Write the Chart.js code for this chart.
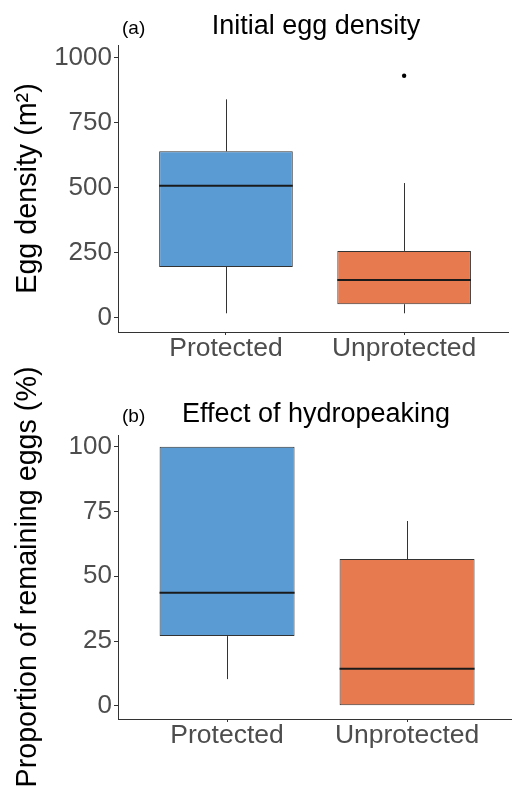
<!DOCTYPE html>
<html>
<head>
<meta charset="utf-8">
<script src="https://cdn.jsdelivr.net/npm/chart.js@4.4.1/dist/chart.umd.min.js"></script>
<style>
  body { margin: 0; background: #fff; }
  #wrap { position: relative; width: 512px; height: 787px; }
  canvas { position: absolute; left: 0; }
  #densidade { top: 0; }
  #hidro { top: 350px; }
</style>
</head>
<body>
<div id="wrap">
  <canvas id="densidade" width="512" height="380"></canvas>
  <canvas id="hidro" width="512" height="437"></canvas>
</div>
<script>
// grupos comuns aos dois painéis
var grupos = ['Protected', 'Unprotected'];
var cores = ['#5a9bd4', '#e87a4f'];

// (a) densidade inicial de ovos
var densMin = [18, 18];
var densQ1 = [196, 53];
var densMediana = [509, 146];
var densQ3 = [641, 258];
var densMax = [841, 519];
var densOutliers = [[], [932]];
var densTicks = [0, 250, 500, 750, 1000];

// (b) proporção de ovos restantes
var ovosMin = [10.3, 0];
var ovosQ1 = [26.9, 0];
var ovosMediana = [43.6, 14.3];
var ovosQ3 = [100, 56.6];
var ovosMax = [100, 71.3];
var ovosTicks = [0, 25, 50, 75, 100];

var fonte = "'Liberation Sans', Arial, sans-serif";

// bigodes atrás das caixas, mediana por cima
var pluginBoxplot = {
    id: 'boxplot',
    beforeDatasetsDraw: function (chart) {
        var b = chart.options.plugins.boxplot;
        var ys = chart.scales.y, xs = chart.scales.x;
        var ctx = chart.ctx;
        ctx.save();
        ctx.strokeStyle = '#333333';
        ctx.lineWidth = 1;
        for (var i = 0; i < grupos.length; i++) {
            var x = Math.round(xs.getPixelForValue(i + 1)) + 0.5;
            ctx.beginPath();
            ctx.moveTo(x, ys.getPixelForValue(b.min[i]));
            ctx.lineTo(x, ys.getPixelForValue(b.q1[i]));
            ctx.moveTo(x, ys.getPixelForValue(b.q3[i]));
            ctx.lineTo(x, ys.getPixelForValue(b.max[i]));
            ctx.stroke();
        }
        ctx.restore();
    },
    afterDatasetsDraw: function (chart) {
        var b = chart.options.plugins.boxplot;
        var ys = chart.scales.y;
        var meta = chart.getDatasetMeta(0);
        var ctx = chart.ctx;
        ctx.save();
        ctx.strokeStyle = '#1a1a1a';
        ctx.lineWidth = 2;
        for (var i = 0; i < grupos.length; i++) {
            var barra = meta.data[i];
            var y = ys.getPixelForValue(b.mediana[i]);
            ctx.beginPath();
            ctx.moveTo(barra.x - barra.width / 2, y);
            ctx.lineTo(barra.x + barra.width / 2, y);
            ctx.stroke();
        }
        ctx.restore();
    },
    afterDraw: function (chart) {
        var b = chart.options.plugins.boxplot;
        var area = chart.chartArea;
        var ctx = chart.ctx;
        ctx.save();
        ctx.fillStyle = '#000';
        ctx.textBaseline = 'alphabetic';
        ctx.textAlign = 'left';
        ctx.font = '19px ' + fonte;
        ctx.fillText(b.letra, area.left + 4, b.baseTitulo);
        ctx.textAlign = 'center';
        ctx.font = '27px ' + fonte;
        ctx.fillText(b.titulo, area.left + 198, b.baseTitulo);
        ctx.restore();
    }
};

function graficoBox(id, dados, opc) {
    var ctx = document.getElementById(id).getContext('2d');
    var pontos = [];
    dados.outliers.forEach(function (lista, i) {
        lista.forEach(function (v) { pontos.push({ x: i + 1, y: v }); });
    });
    var chart = new Chart(ctx, {
        type: 'bar',
        data: {
            datasets: [{
                data: grupos.map(function (g, i) {
                    return { x: i + 1, y: [dados.q1[i], dados.q3[i]] };
                }),
                backgroundColor: cores,
                borderColor: '#333333',
                borderWidth: 1,
                borderSkipped: false,
                barPercentage: 0.75,
                categoryPercentage: 1
            }, {
                type: 'scatter',
                data: pontos,
                pointRadius: 2.2,
                pointBackgroundColor: '#000',
                pointBorderWidth: 0
            }]
        },
        options: {
            responsive: false,
            animation: false,
            events: [],
            layout: { padding: { top: opc.topo, right: 0, left: 0, bottom: 0 } },
            plugins: {
                legend: { display: false },
                tooltip: { enabled: false },
                boxplot: {
                    min: dados.min, q1: dados.q1, mediana: dados.mediana,
                    q3: dados.q3, max: dados.max,
                    letra: opc.letra, titulo: opc.titulo, baseTitulo: opc.baseTitulo
                }
            },
            scales: {
                x: {
                    type: 'linear',
                    // o painel fica cortado um pouco antes de 2.6 na direita
                    min: 0.394,
                    max: 2.583,
                    offset: false,
                    afterBuildTicks: function (s) {
                        s.ticks = grupos.map(function (g, i) { return { value: i + 1 }; });
                    },
                    afterFit: function (s) { s.height = opc.alturaX; },
                    ticks: {
                        color: '#4d4d4d',
                        font: { family: fonte, size: 26.5 },
                        padding: -2,
                        callback: function (v) { return grupos[v - 1] || ''; }
                    },
                    grid: { offset: false, drawOnChartArea: false, tickLength: 3, color: '#333333' },
                    border: { color: '#333333', width: 1 }
                },
                y: {
                    min: opc.ymin,
                    max: opc.ymax,
                    afterBuildTicks: function (s) {
                        s.ticks = opc.ticks.map(function (v) { return { value: v }; });
                    },
                    afterFit: function (s) { s.width = 118; },
                    ticks: {
                        color: '#4d4d4d',
                        font: { family: fonte, size: 26 },
                        padding: 2,
                        callback: function (v) { return String(v); }
                    },
                    grid: { drawOnChartArea: false, tickLength: 4, color: '#333333' },
                    border: { color: '#333333', width: 1 },
                    title: {
                        display: true,
                        text: opc.tituloY,
                        color: '#000',
                        font: { family: fonte, size: 28.7 },
                        padding: { top: 11, bottom: 0 }
                    }
                }
            }
        },
        plugins: [pluginBoxplot]
    });
    return chart;
}

var chartDens = graficoBox('densidade', {
    min: densMin, q1: densQ1, mediana: densMediana, q3: densQ3, max: densMax,
    outliers: densOutliers
}, {
    topo: 45, alturaX: 48, ymin: -54, ymax: 1050, ticks: densTicks,
    letra: '(a)', titulo: 'Initial egg density', baseTitulo: 34,
    tituloY: 'Egg density (m\u00B2)'
});

var chartOvos = graficoBox('hidro', {
    min: ovosMin, q1: ovosQ1, mediana: ovosMediana, q3: ovosQ3, max: ovosMax,
    outliers: [[], []]
}, {
    topo: 85, alturaX: 68, ymin: -5.1, ymax: 104.5, ticks: ovosTicks,
    letra: '(b)', titulo: 'Effect of hydropeaking', baseTitulo: 72,
    tituloY: 'Proportion of remaining eggs (%)'
});
</script>
</body>
</html>
